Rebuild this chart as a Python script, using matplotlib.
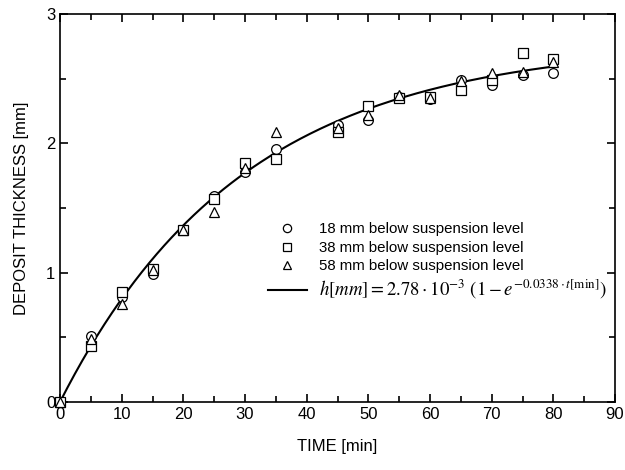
import numpy as np
import matplotlib
matplotlib.use("Agg")
import matplotlib.pyplot as plt
from matplotlib.ticker import MultipleLocator

plt.rcParams['font.family'] = ['Liberation Sans', 'DejaVu Sans']
plt.rcParams['mathtext.fontset'] = 'stix'

time = [0, 5, 10, 15, 20, 25, 30, 35, 45, 50, 55, 60, 65, 70, 75, 80]
h18 = [0.0, 0.51, 0.81, 0.99, 1.33, 1.59, 1.78, 1.96, 2.14, 2.18, 2.36, 2.34, 2.49, 2.45, 2.53, 2.54]
h38 = [0.0, 0.43, 0.85, 1.03, 1.33, 1.57, 1.85, 1.88, 2.09, 2.29, 2.35, 2.36, 2.41, 2.49, 2.70, 2.65]
h58 = [0.0, 0.49, 0.76, 1.02, 1.33, 1.47, 1.81, 2.09, 2.12, 2.22, 2.37, 2.35, 2.48, 2.54, 2.55, 2.63]
fit_a = 2.78
fit_k = 0.0338

fig = plt.figure(figsize=(6.25, 4.70), dpi=100)
ax = fig.add_axes([60/625, 1-402/470, 555/625, 388/470])

mk = dict(linestyle='none', mfc='white', mec='black', ms=7, mew=0.9, clip_on=False, zorder=3)
ax.plot(time, h18, marker='o', label='18 mm below suspension level', **mk)
ax.plot(time, h38, marker='s', label='38 mm below suspension level', **mk)
ax.plot(time, h58, marker='^', label='58 mm below suspension level', **mk)
tt = np.linspace(0, 80, 200)
ax.plot(tt, fit_a*(1-np.exp(-fit_k*tt)), color='black', lw=1.5, zorder=2,
        label=r'$h\left[mm\right] = 2.78\cdot10^{-3}\ \left(1-e^{-0.0338\cdot t\left[\mathrm{min}\right]}\right)$')

ax.set_xlim(0, 90)
ax.set_ylim(0, 3)
ax.xaxis.set_major_locator(MultipleLocator(10))
ax.xaxis.set_minor_locator(MultipleLocator(5))
ax.yaxis.set_major_locator(MultipleLocator(1))
ax.yaxis.set_minor_locator(MultipleLocator(0.5))
ax.tick_params(which='both', direction='in', top=True, right=True, labelsize=12, width=1.2)
ax.tick_params(which='major', length=6)
ax.tick_params(which='minor', length=4)
for s in ax.spines.values():
    s.set_linewidth(1.2)
ax.set_xlabel('TIME [min]', fontsize=12, labelpad=12)
ax.set_ylabel('DEPOSIT THICKNESS [mm]', fontsize=12, labelpad=12)

leg = ax.legend(loc='upper left', bbox_to_anchor=(0.355, 0.49), frameon=False,
                fontsize=10.8, handlelength=2.6, labelspacing=0.3, borderpad=0.2,
                markerscale=0.85)
leg.get_texts()[3].set_fontsize(13.5)

fig.savefig('out.png', dpi=100)
